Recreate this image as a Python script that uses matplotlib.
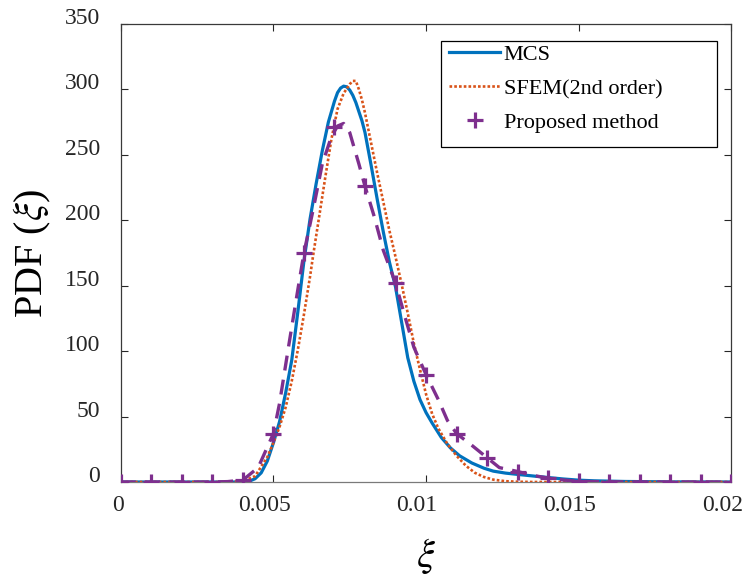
import matplotlib
matplotlib.use("Agg")
import matplotlib.pyplot as plt
import matplotlib.transforms as mtransforms
from matplotlib.patches import Rectangle

# --- MCS reference PDF ---
mcs_x = [0.0, 0.002, 0.0040, 0.0042, 0.0044, 0.0046, 0.0048, 0.0050, 0.0052, 0.0054,
         0.0056, 0.0058, 0.0060, 0.0062, 0.0064, 0.0066, 0.0068, 0.0070, 0.0071, 0.0072,
         0.0073, 0.0074, 0.0075, 0.0076, 0.0077, 0.0078, 0.0079, 0.0080, 0.0082, 0.0084,
         0.0086, 0.0088, 0.0090, 0.0092, 0.0094, 0.0096, 0.0098, 0.0100, 0.0102, 0.0105,
         0.0108, 0.0111, 0.0115, 0.0119, 0.0122, 0.0126, 0.0130, 0.0135, 0.0140, 0.0145,
         0.0150, 0.0155, 0.0165, 0.0180, 0.0200]
mcs_y = [0.0, 0.0, 0.0, 0.5, 2.5, 7, 16, 30, 46, 68,
         93, 130, 169, 201, 228, 253, 275, 291, 297.5, 301,
         302.5, 302, 299.5, 295.5, 290, 283, 276, 267, 242, 216,
         191, 168, 149, 122, 95, 77, 63, 53, 45, 34,
         26, 20, 14.5, 10.5, 8.3, 6.8, 5.8, 4.6, 3.4, 2.3,
         1.4, 0.9, 0.4, 0.1, 0.0]

# --- second-order SFEM PDF ---
sfem_x = [0.0, 0.0035, 0.0038, 0.0041, 0.0044, 0.0048, 0.0050, 0.0052, 0.0054, 0.0056,
          0.0058, 0.0060, 0.0062, 0.0063, 0.0065, 0.0067, 0.0069, 0.0071, 0.0073, 0.0075,
          0.0076, 0.0077, 0.0078, 0.0079, 0.0080, 0.0082, 0.0084, 0.0086, 0.0088, 0.0090,
          0.0092, 0.0094, 0.0096, 0.0098, 0.0100, 0.0102, 0.0104, 0.0107, 0.0110, 0.0113,
          0.0116, 0.0119, 0.0122, 0.0126, 0.0130, 0.0135, 0.0200]
sfem_y = [0.0, 0.0, 0.3, 1.5, 4.5, 19, 30, 42, 57, 77,
          101, 128, 157, 173, 203, 233, 262, 285, 297, 304,
          306.5, 306.5, 300, 292, 282, 259, 236, 214, 192, 172,
          151, 129, 106, 86, 67, 52, 41, 29, 20, 12.5,
          7, 3.8, 1.8, 0.6, 0.2, 0.0, 0.0]

# --- proposed method: fitted curve and sample points ---
prop_curve_x = [0.0, 0.001, 0.002, 0.003, 0.0035, 0.004, 0.0045, 0.005, 0.0052, 0.0055,
                0.0058, 0.006, 0.0063, 0.0066, 0.0069, 0.0071, 0.0073, 0.0075, 0.0076,
                0.0078, 0.008, 0.0083, 0.0086, 0.009, 0.0093, 0.0096, 0.010, 0.0104,
                0.0107, 0.011, 0.0115, 0.012, 0.0124, 0.013, 0.0135, 0.014, 0.0145,
                0.015, 0.016, 0.017, 0.02]
prop_curve_y = [0.0, 0.0, 0.0, 0.0, 0.3, 1.5, 11, 37, 60, 104,
                147, 175, 208, 243, 264, 272, 274, 267, 259,
                243, 226, 203, 177, 152, 127, 103, 82, 63,
                47, 37, 28, 18.5, 11, 8, 5, 3, 1.5,
                0.5, 0.1, 0.0, 0.0]
prop_pts_x = [0.000, 0.001, 0.002, 0.003, 0.004, 0.005, 0.006, 0.007, 0.008, 0.009, 0.010,
              0.011, 0.012, 0.013, 0.014, 0.015, 0.016, 0.017, 0.018, 0.019, 0.020]
prop_pts_y = [0, 0, 0, 0, 1.5, 37, 175, 271, 226, 152, 82,
              37, 18.5, 8, 3, 0.5, 0, 0, 0, 0, 0]

x_ticks = [0, 0.005, 0.01, 0.015, 0.02]
x_ticklabels = ["0", "0.005", "0.01", "0.015", "0.02"]
y_ticks = [0, 50, 100, 150, 200, 250, 300, 350]

plt.rcParams["font.family"] = ["Liberation Serif", "DejaVu Serif"]
plt.rcParams["mathtext.fontset"] = "stix"

fig = plt.figure(figsize=(7.5, 5.78), dpi=100)
ax = fig.add_axes([0.161, 0.1661, 0.8142, 0.7924])

c_blue = "#0072BD"
c_orange = "#D95319"
c_purple = "#7E2F8E"

ax.plot(mcs_x, mcs_y, color=c_blue, lw=2.3, label="MCS", zorder=3)
ax.plot(sfem_x, sfem_y, color=c_orange, lw=1.9, linestyle=(0, (1.0, 0.8)),
        label="SFEM(2nd order)", zorder=3)
ax.plot(prop_curve_x, prop_curve_y, color=c_purple, lw=2.4,
        linestyle=(0, (4.5, 2.8)), zorder=4)
ax.plot(prop_pts_x, prop_pts_y, linestyle="none", marker="+", ms=11, mew=2.3,
        color=c_purple, label="Proposed method", zorder=5)

ax.set_xlim(0, 0.02)
ax.set_ylim(0, 350)
ax.set_xticks(x_ticks)
ax.set_xticklabels(x_ticklabels)
ax.set_yticks(y_ticks)

ax.tick_params(direction="in", length=5, width=0.8, labelsize=17,
               top=True, right=True, colors="#262626")
ax.tick_params(axis="x", pad=9.5)
ax.tick_params(axis="y", pad=15)

for side in ["left", "top", "right"]:
    ax.spines[side].set_color("#3a3a3a")
    ax.spines[side].set_linewidth(0.9)
ax.spines["bottom"].set_color("#7a7a7a")
ax.spines["bottom"].set_linewidth(0.9)

# nudge tick labels
dy = mtransforms.ScaledTranslation(0, 8 / 100, fig.dpi_scale_trans)
for lab in ax.get_yticklabels():
    lab.set_transform(lab.get_transform() + dy)
for lab in ax.get_xticklabels():
    shift = -3 if lab.get_text() == "0" else -9
    dx = mtransforms.ScaledTranslation(shift / 100, 0, fig.dpi_scale_trans)
    lab.set_transform(lab.get_transform() + dx)

ax.set_xlabel(r"$\xi$", fontsize=29, labelpad=14)
ax.set_ylabel(r"PDF ($\xi$)", fontsize=29, labelpad=8)

# legend box drawn separately so it can be taller than its entries
frame = Rectangle((0.5245, 0.7321), 0.4519, 0.2314, transform=ax.transAxes,
                  facecolor="white", edgecolor="black", lw=0.9, zorder=6)
ax.add_patch(frame)
leg = ax.legend(loc="upper left", bbox_to_anchor=(0.5286, 0.9672),
                fontsize=16, frameon=False, borderpad=0.25,
                labelspacing=0.6, handlelength=2.3, handletextpad=0.15,
                borderaxespad=0)
leg.set_zorder(7)

fig.savefig("out.png", dpi=100)
